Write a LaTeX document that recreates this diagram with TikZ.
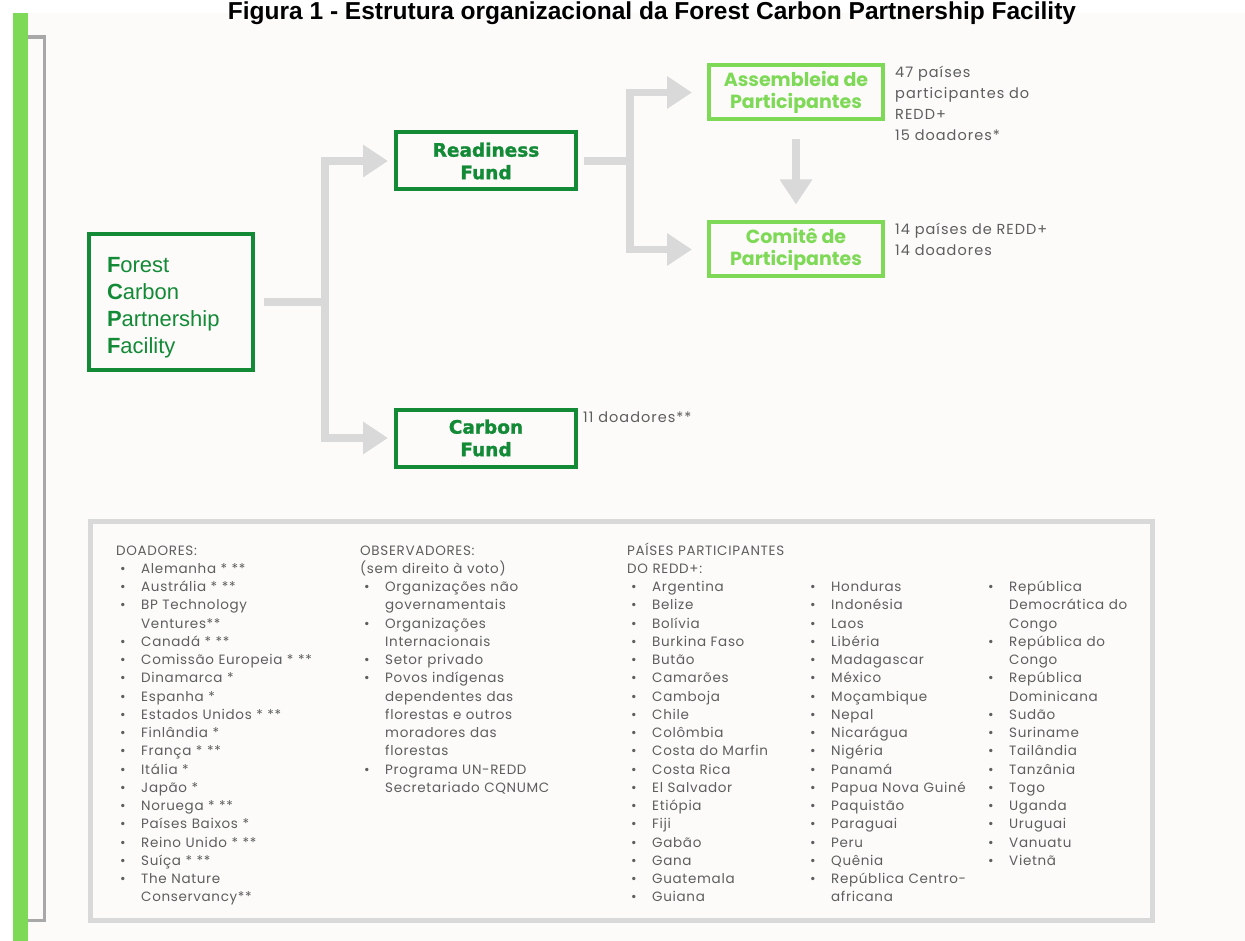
\documentclass[tikz,border=0pt]{standalone}
\usepackage{fontspec}
\setmainfont{Liberation Sans}
\newfontfamily\popfont[LetterSpace=5]{Poppins}
\newfontfamily\sidefont[LetterSpace=7]{Poppins}
\newfontfamily\headfont{Poppins}
\newfontfamily\fundfont[BoldFeatures={FakeBold=1.5}]{DejaVu Sans}
\usetikzlibrary{arrows.meta}
\definecolor{fcpfgreen}{HTML}{138A36}
\definecolor{lightgreen}{HTML}{7ED957}
\definecolor{conngray}{HTML}{D9D9D9}
\definecolor{textgray}{HTML}{5E5E5E}
\definecolor{bracketgray}{HTML}{A8A8A8}
\definecolor{paper}{HTML}{FCFBFA}
\tikzset{
    fundbox/.style={draw=fcpfgreen, line width=4pt, fill=paper, text=fcpfgreen,
        font=\fundfont\bfseries\fontsize{18.5}{22.5}\selectfont, align=center,
        minimum width=180pt, minimum height=57pt, inner sep=0pt},
    partbox/.style={draw=lightgreen, line width=4pt, fill=paper, text=lightgreen,
        font=\headfont\bfseries\fontsize{19}{22.5}\selectfont, align=center,
        minimum width=174pt, minimum height=54pt, inner sep=0pt},
    conn/.style={draw=conngray, line width=7.5pt},
    connarrow/.style={conn, -{Triangle[width=31pt,length=25pt]}},
    sidetext/.style={text=textgray, font=\sidefont\fontsize{14.5}{20.7}\selectfont,
        anchor=base west, inner sep=0pt, align=left, text width=200pt},
    listtext/.style={text=textgray, font=\popfont\fontsize{13.5}{18.25}\selectfont,
        anchor=base west, inner sep=0pt, align=left, text width=240pt}
}
\newcommand{\li}[1]{\hspace*{4pt}\makebox[21pt][l]{\textbullet}#1}
\newcommand{\lc}[1]{\hspace*{25pt}#1}

\begin{document}
\begin{tikzpicture}[x=1pt,y=-1pt]
    \useasboundingbox (0,0) rectangle (1245,941);
    % page
    \fill[white] (0,0) rectangle (1245,941);
    \fill[paper] (28,13) rectangle (1245,941);
    \fill[lightgreen] (13,13) rectangle (28,941);
    \draw[bracketgray, line width=3.5pt] (28,37) -- (44.5,37) -- (44.5,920.5) -- (28,920.5);
    \node[font=\bfseries\fontsize{24.5}{30}\selectfont, anchor=base] (title) at (652,20)
        {Figura 1 - Estrutura organizacional da Forest Carbon Partnership Facility};

    % facility
    \node[draw=fcpfgreen, line width=4pt, fill=paper, text=fcpfgreen, font=\fontsize{22}{27}\selectfont,
        align=left, text width=128pt, inner xsep=18pt, minimum height=136pt] (fcpf) at (171,302)
        {\rule{0pt}{27pt}\textbf{F}orest\\\textbf{C}arbon\\\textbf{P}artnership\\\textbf{F}acility};

    % funds
    \node[fundbox] (readiness) at (486,161) {Readiness\\Fund};
    \node[fundbox] (carbon) at (486,438) {Carbon\\Fund};
    \coordinate (j1) at ([xshift=70pt]fcpf.east);
    \draw[conn] ([xshift=9pt]fcpf.east) -- (j1);
    \draw[connarrow] (j1) |- ([xshift=-6pt]readiness.west);
    \draw[connarrow] (j1) |- ([xshift=-6pt]carbon.west);
    \node[sidetext] (carbon-info) at (583,422) {11 doadores**};

    % readiness fund
    \node[partbox] (assembleia) at (796,92.5) {Assembleia de\\Participantes};
    \node[partbox] (comite) at (796,249.5) {Comitê de\\Participantes};
    \coordinate (j2) at ([xshift=52pt]readiness.east);
    \draw[conn] ([xshift=6pt]readiness.east) -- (j2);
    \draw[connarrow] (j2) |- ([xshift=-15pt]assembleia.west);
    \draw[connarrow] (j2) |- ([xshift=-15pt]comite.west);
    \draw[connarrow] ([yshift=-18pt]assembleia.south) -- ([yshift=16pt]comite.north);
    \node[sidetext] (assembleia-info) at (895,78) {47 países\\participantes do\\REDD+\\15 doadores*};
    \node[sidetext] (comite-info) at (895,235) {14 países de REDD+\\14 doadores};

    % members
    \draw[conngray, line width=5pt, fill=paper] (90,521) rectangle (1152.5,920);
    \node[listtext] (donors) at (116,555) {DOADORES:\\
        \li{Alemanha * **}\\\li{Austrália * **}\\\li{BP Technology}\\\lc{Ventures**}\\
        \li{Canadá * **}\\\li{Comissão Europeia * **}\\\li{Dinamarca *}\\\li{Espanha *}\\
        \li{Estados Unidos * **}\\\li{Finlândia *}\\\li{França * **}\\\li{Itália *}\\
        \li{Japão *}\\\li{Noruega * **}\\\li{Países Baixos *}\\\li{Reino Unido * **}\\
        \li{Suíça * **}\\\li{The Nature}\\\lc{Conservancy**}};
    \node[listtext] (observers) at (360,555) {OBSERVADORES:\\(sem direito à voto)\\
        \li{Organizações não}\\\lc{governamentais}\\\li{Organizações}\\\lc{Internacionais}\\
        \li{Setor privado}\\\li{Povos indígenas}\\\lc{dependentes das}\\\lc{florestas e outros}\\
        \lc{moradores das}\\\lc{florestas}\\\li{Programa UN-REDD}\\\lc{Secretariado CQNUMC}};
    \node[listtext] (countries-a) at (627,555) {PAÍSES PARTICIPANTES\\DO REDD+:\\
        \li{Argentina}\\\li{Belize}\\\li{Bolívia}\\\li{Burkina Faso}\\\li{Butão}\\
        \li{Camarões}\\\li{Camboja}\\\li{Chile}\\\li{Colômbia}\\\li{Costa do Marfin}\\
        \li{Costa Rica}\\\li{El Salvador}\\\li{Etiópia}\\\li{Fiji}\\\li{Gabão}\\
        \li{Gana}\\\li{Guatemala}\\\li{Guiana}};
    \node[listtext] (countries-b) at (806,591.5) {\li{Honduras}\\\li{Indonésia}\\\li{Laos}\\
        \li{Libéria}\\\li{Madagascar}\\\li{México}\\\li{Moçambique}\\\li{Nepal}\\
        \li{Nicarágua}\\\li{Nigéria}\\\li{Panamá}\\\li{Papua Nova Guiné}\\\li{Paquistão}\\
        \li{Paraguai}\\\li{Peru}\\\li{Quênia}\\\li{República Centro-}\\\lc{africana}};
    \node[listtext] (countries-c) at (984,591.5) {\li{República}\\\lc{Democrática do}\\\lc{Congo}\\
        \li{República do}\\\lc{Congo}\\\li{República}\\\lc{Dominicana}\\\li{Sudão}\\
        \li{Suriname}\\\li{Tailândia}\\\li{Tanzânia}\\\li{Togo}\\\li{Uganda}\\
        \li{Uruguai}\\\li{Vanuatu}\\\li{Vietnã}};
\end{tikzpicture}
\end{document}
